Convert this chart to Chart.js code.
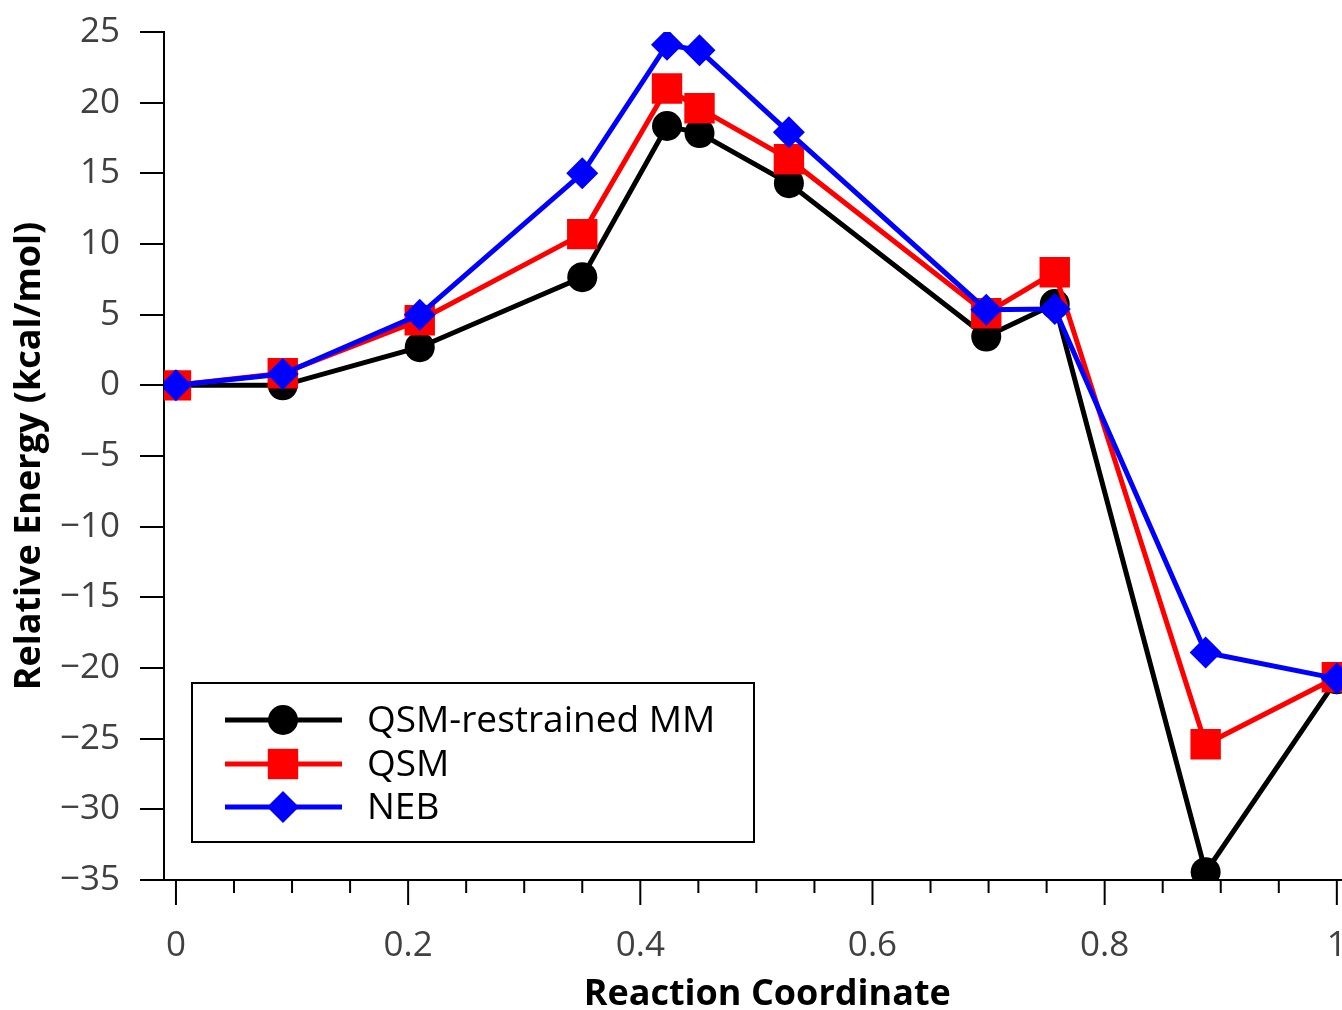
<!DOCTYPE html>
<html><head><meta charset="utf-8">
<script src="https://cdn.jsdelivr.net/npm/chart.js"></script>
<style>
html,body{margin:0;padding:0;background:#fff;overflow:hidden;width:1342px;height:1010px;}
#wrap{position:absolute;left:0;top:0;width:1392px;height:1010px;}
canvas{display:block;}
</style></head>
<body><div id="wrap"><canvas id="c" width="1392" height="1010" style="width:1392px;height:1010px"></canvas></div>
<script>
// ---- data ----
const reactionCoordinate = [0, 0.092, 0.210, 0.350, 0.423, 0.451, 0.528, 0.698, 0.757, 0.887, 1.0];
const qsmRestrainedMM   = [0, 0, 2.7, 7.65, 18.35, 17.85, 14.3, 3.45, 5.75, -34.45, -20.8];
const qsmEnergy         = [0, 0.85, 4.6, 10.7, 21.0, 19.6, 16.0, 5.1, 8.0, -25.4, -20.65];
const nebEnergy         = [0, 0.8, 5.0, 15.0, 24.1, 23.7, 17.9, 5.35, 5.4, -18.9, -20.75];
const seriesNames = ['QSM-restrained MM', 'QSM', 'NEB'];
const xMajorTicks = [0, 0.2, 0.4, 0.6, 0.8, 1];
const yTicks = [-35, -30, -25, -20, -15, -10, -5, 0, 5, 10, 15, 20, 25];

const toPts = arr => arr.map((v, i) => ({x: reactionCoordinate[i], y: v}));
const isMajor = v => xMajorTicks.some(m => Math.abs(m - v) < 1e-6);

const styles = [
  {color: '#000000', pointStyle: 'circle', radius: 15, order: 2},
  {color: '#ff0000', pointStyle: 'rect', radius: 21.5, order: 1},
  {color: '#0000ff', pointStyle: 'rectRot', radius: 16, order: 0}
];
const seriesData = [qsmRestrainedMM, qsmEnergy, nebEnergy];

const datasets = seriesData.map((d, i) => ({
  label: seriesNames[i],
  data: toPts(d),
  borderColor: styles[i].color,
  backgroundColor: styles[i].color,
  pointBackgroundColor: styles[i].color,
  pointBorderColor: styles[i].color,
  pointBorderWidth: 0,
  borderWidth: 5,
  pointStyle: styles[i].pointStyle,
  pointRadius: styles[i].radius,
  tension: 0,
  order: styles[i].order
}));

function drawMarker(ctx, style, x, y, r, color) {
  ctx.save();
  ctx.fillStyle = color;
  ctx.beginPath();
  if (style === 'circle') {
    ctx.arc(x, y, r, 0, Math.PI * 2);
  } else if (style === 'rect') {
    const s = r * Math.SQRT1_2;
    ctx.rect(x - s, y - s, 2 * s, 2 * s);
  } else {
    ctx.moveTo(x - r, y); ctx.lineTo(x, y - r); ctx.lineTo(x + r, y); ctx.lineTo(x, y + r); ctx.closePath();
  }
  ctx.fill();
  ctx.restore();
}

const customDecor = {
  id: 'customDecor',
  afterDraw(chart) {
    const ctx = chart.ctx;
    const xs = chart.scales.x;
    const ca = chart.chartArea;
    // x ticks (major long, minor short), pointing down
    ctx.save();
    ctx.strokeStyle = '#000';
    ctx.lineWidth = 2;
    xs.ticks.forEach(t => {
      const px = xs.getPixelForValue(t.value);
      const len = isMajor(t.value) ? 25 : 13;
      ctx.beginPath();
      ctx.moveTo(px, ca.bottom);
      ctx.lineTo(px, ca.bottom + len);
      ctx.stroke();
    });
    ctx.restore();
    // legend box
    const bx = ca.left + 28, by = ca.top + 651, bw = 562, bh = 159;
    ctx.save();
    ctx.fillStyle = '#fff';
    ctx.fillRect(bx, by, bw, bh);
    ctx.strokeStyle = '#000';
    ctx.lineWidth = 2;
    ctx.strokeRect(bx, by, bw, bh);
    const rows = [by + 37, by + 81, by + 124];
    seriesNames.forEach((name, i) => {
      const y = rows[i];
      ctx.strokeStyle = styles[i].color;
      ctx.lineWidth = 5;
      ctx.beginPath();
      ctx.moveTo(bx + 33, y);
      ctx.lineTo(bx + 150, y);
      ctx.stroke();
      drawMarker(ctx, styles[i].pointStyle, bx + 91, y, styles[i].radius, styles[i].color);
      ctx.fillStyle = '#000';
      ctx.font = '37px "Open Sans"';
      ctx.textBaseline = 'middle';
      ctx.textAlign = 'left';
      ctx.fillText(name, bx + 175, y + 1);
    });
    ctx.restore();
  }
};

new Chart(document.getElementById('c'), {
  type: 'line',
  data: {datasets},
  plugins: [customDecor],
  options: {
    responsive: false,
    animation: false,
    events: [],
    layout: {padding: {left: 0, top: 32, right: 10, bottom: 0}},
    plugins: {legend: {display: false}, tooltip: {enabled: false}},
    scales: {
      x: {
        type: 'linear',
        min: -0.0103,
        max: 1.029,
        afterFit(s) { s.height = 130; s.paddingLeft = 0; s.paddingRight = 0; },
        border: {display: true, color: '#000', width: 2},
        grid: {drawOnChartArea: false, drawTicks: true, tickLength: 25, tickColor: 'rgba(0,0,0,0)'},
        ticks: {
          stepSize: 0.05,
          includeBounds: false,
          autoSkip: false,
          maxRotation: 0,
          padding: 20,
          color: '#404040',
          font: {family: '"Open Sans"', size: 35},
          callback: v => isMajor(v) ? String(Number(v.toFixed(2))) : ''
        },
        title: {
          display: true,
          text: 'Reaction Coordinate',
          color: '#000',
          font: {family: '"Open Sans"', size: 36, weight: 'bold', lineHeight: 1},
          padding: {top: 0, bottom: -3}
        }
      },
      y: {
        type: 'linear',
        min: -35,
        max: 25,
        afterFit(s) { s.width = 164; s.paddingTop = 0; s.paddingBottom = 0; },
        border: {display: true, color: '#000', width: 2},
        grid: {drawOnChartArea: false, drawTicks: true, tickLength: 24, tickColor: '#000', lineWidth: 2},
        afterBuildTicks(s) { s.ticks = yTicks.map(v => ({value: v})); },
        ticks: {
          padding: 20,
          color: '#404040',
          font: {family: '"Open Sans"', size: 35},
          callback: v => String(v).replace('-', '\u2212')
        },
        title: {
          display: true,
          text: 'Relative Energy (kcal/mol)',
          color: '#000',
          font: {family: '"Open Sans"', size: 36, weight: 'bold', lineHeight: 1},
          padding: {top: 12, bottom: 0}
        }
      }
    }
  }
});
</script>
</body></html>
